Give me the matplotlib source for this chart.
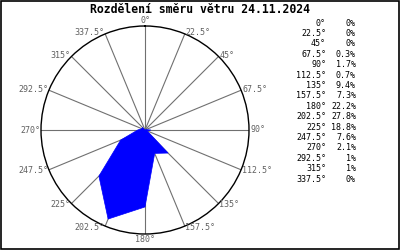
import matplotlib
matplotlib.use("Agg")
import matplotlib.pyplot as plt
import numpy as np

# wind direction distribution
directions = [0, 22.5, 45, 67.5, 90, 112.5, 135, 157.5, 180, 202.5, 225, 247.5, 270, 292.5, 315, 337.5]
dir_labels = ["0°", "22.5°", "45°", "67.5°", "90°", "112.5°", "135°", "157.5°",
              "180°", "202.5°", "225°", "247.5°", "270°", "292.5°", "315°", "337.5°"]
percent = [0, 0, 0, 0.3, 1.7, 0.7, 9.4, 7.3, 22.2, 27.8, 18.8, 7.6, 2.1, 1, 1, 0]
pct_labels = ["0%", "0%", "0%", "0.3%", "1.7%", "0.7%", "9.4%", "7.3%",
              "22.2%", "27.8%", "18.8%", "7.6%", "2.1%", "1%", "1%", "0%"]
title = "Rozdělení směru větru 24.11.2024"
rmax = 30

mono = "DejaVu Sans Mono"
gray = "#606060"

fig = plt.figure(figsize=(4, 2.5), dpi=100)
fig.patch.set_facecolor("white")

# frame around the whole picture
fig.add_artist(plt.Rectangle((0.002, 0.003), 0.995, 0.993, transform=fig.transFigure,
                             fill=False, edgecolor="black", linewidth=1.2))

cx, cy, rad = 145, 130, 104
ax = fig.add_axes([(cx - rad) / 400, (250 - cy - rad) / 250, 2 * rad / 400, 2 * rad / 250],
                  projection="polar")
ax.set_theta_zero_location("N")
ax.set_theta_direction(-1)
ax.set_ylim(0, rmax)
ax.set_yticks([])
ax.set_xticks([])
ax.grid(False)
ax.spines["polar"].set_color("black")
ax.spines["polar"].set_linewidth(1.0)

th = np.deg2rad(directions)
for t in th:
    ax.plot([t, t], [0, rmax], color="#707070", linewidth=0.8, zorder=1)

ax.fill(np.append(th, th[0]), percent + [percent[0]], facecolor="#0000ff",
        edgecolor="#0000ff", linewidth=0.5, zorder=3)

for d, t, lab in zip(directions, th, dir_labels):
    if d == 0:
        ha, va = "center", "bottom"
    elif d == 180:
        ha, va = "center", "top"
    elif d < 180:
        ha, va = "left", "center"
    else:
        ha, va = "right", "center"
    ax.text(t, rmax * 1.01, lab, ha=ha, va=va, fontsize=6, family=mono,
            color=gray, clip_on=False)

fig.text(0.5, 0.962, title, ha="center", va="center", fontsize=8.3,
         family=mono, fontweight="bold")

for i, (dl, pl) in enumerate(zip(dir_labels, pct_labels)):
    y = 1 - (23 + i * 10.4) / 250
    fig.text(326 / 400, y, dl, ha="right", va="center", fontsize=6, family=mono)
    fig.text(356 / 400, y, pl, ha="right", va="center", fontsize=6, family=mono)

fig.savefig("out.png", dpi=100, facecolor="white")
